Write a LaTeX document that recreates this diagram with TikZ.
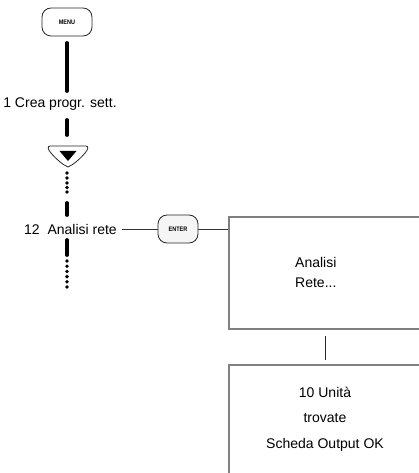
\documentclass[tikz,border=0pt]{standalone}
\usepackage{fontspec}
\setmainfont{Liberation Sans}
\begin{document}
\begin{tikzpicture}[x=1pt,y=-1pt,
  thickline/.style={line width=3.8pt,line cap=round,black},
  dotmark/.style={circle,fill=black,inner sep=0pt,minimum size=3.8pt},
  keybtn/.style={draw=black!85,line width=0.8pt,rounded corners=9pt,fill=white,inner sep=0pt,font=\fontsize{6.5}{7}\selectfont\bfseries},
  lbl/.style={font=\fontsize{14}{16}\selectfont,inner sep=0pt},
  screen/.style={draw=black!50,line width=1.5pt},
  thin/.style={draw=black!80,line width=0.8pt}]
\useasboundingbox (0,0) rectangle (419,473);
% MENU button
\node[keybtn,minimum width=50pt,minimum height=28pt] (menu) at (67,22) {\scalebox{0.85}[1]{MENU}};
\coordinate (l1a) at (67,43); \coordinate (l1b) at (67,91);
\draw[thickline] (l1a) -- (l1b);
\node[lbl] (crea) at (60,104) {1 Crea progr. sett.};
\coordinate (l2a) at (67,120); \coordinate (l2b) at (67,135);
\draw[thickline] (l2a) -- (l2b);
% down button
\draw[black!85,line width=0.8pt,fill=white] (50,146) -- (86,146) .. controls (89,146) and (88,150) .. (85,153) .. controls (80,159) and (73,165) .. (68,167) .. controls (63,165) and (56,159) .. (51,153) .. controls (48,150) and (47,146) .. (50,146) -- cycle;
\node[coordinate] (down) at (68,156) {};
\fill[black] (59.5,151) -- (76.5,151) -- (68,161) -- cycle;
% dots
\foreach \y [count=\i] in {173,178,183,187.5,192} \node[dotmark] (da\i) at (67,\y) {};
\coordinate (l3a) at (67,203); \coordinate (l3b) at (67,215);
\draw[thickline] (l3a) -- (l3b);
\node[lbl,anchor=east] (rete) at (117,229) {12\ \ Analisi rete};
\coordinate (l4a) at (67,240); \coordinate (l4b) at (67,255);
\draw[thickline] (l4a) -- (l4b);
\foreach \y [count=\i] in {261,266.2,271.4,276.6,281.8,287} \node[dotmark] (db\i) at (67,\y) {};
% ENTER button
\node[keybtn,minimum width=40pt,minimum height=28pt,fill=black!4] (enter) at (178,229) {\scalebox{0.85}[1]{ENTER}};
% screens
\node[screen,minimum width=240pt,minimum height=112pt,anchor=north west,inner sep=0pt] (scr1) at (228,216) {};
\node[lbl,align=left,anchor=west,font=\fontsize{14}{20}\selectfont] (t1) at (295,272) {Analisi\\Rete...};
\node[screen,minimum width=240pt,minimum height=140pt,anchor=north west,inner sep=0pt] (scr2) at (228,364) {};
\node[lbl,align=center,font=\fontsize{14}{25.5}\selectfont] (t2) at (325,419) {10 Unità\\trovate\\Scheda Output OK};
% connectors
\draw[thin] (rete.east) ++(5,0) -- (enter.west);
\draw[thin] (enter.east) -- (scr1.west |- enter.east);
\draw[black!85,line width=1pt] (325,336) -- (325,360);
\end{tikzpicture}
\end{document}
